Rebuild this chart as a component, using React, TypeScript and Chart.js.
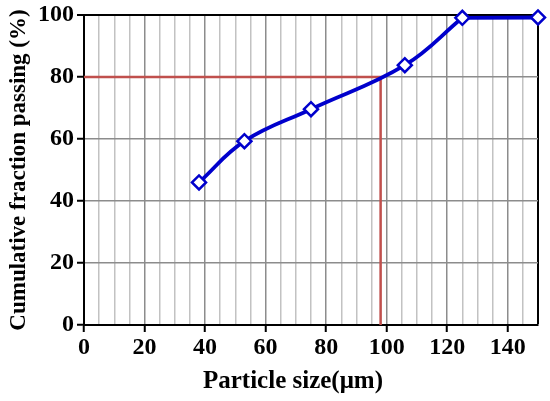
import React, { useEffect, useRef } from "react";
import { Chart, registerables } from "chart.js";

Chart.register(...registerables);

const sizes = [38, 53, 75, 106, 125, 150];
const passing = [46, 59.3, 69.6, 83.8, 99.1, 99.2];
const d80Size = 98;
const d80Value = 80;
const xMin = 0;
const xMax = 150;
const yMin = 0;
const yMax = 100;
const xTitle = "Particle size(μm)";
const yTitle = "Cumulative fraction passing (%)";

const BLUE = "#0000CC";
const RED = "#C0504D";
const FONT = "'Liberation Serif', 'Times New Roman', serif";

const xTitlePlugin = {
  id: "xTitlePlugin",
  afterDraw(chart: any) {
    const { ctx, chartArea } = chart;
    ctx.save();
    ctx.font = `bold 25px ${FONT}`;
    ctx.fillStyle = "#000";
    ctx.textAlign = "center";
    ctx.textBaseline = "alphabetic";
    const cx = (chartArea.left + chartArea.right) / 2 - 18;
    ctx.fillText(xTitle, cx, chartArea.bottom + 63);
    ctx.restore();
  },
};

export default function App() {
  const ref = useRef<HTMLCanvasElement | null>(null);

  useEffect(() => {
    if (!ref.current) return;
    const pts = sizes.map((x, i) => ({ x, y: passing[i] }));
    const plateauStart = sizes.length - 2;
    const redPts = [
      { x: xMin, y: d80Value },
      { x: d80Size, y: d80Value },
      { x: d80Size, y: yMin },
    ];
    const chart = new Chart(ref.current, {
      type: "scatter",
      plugins: [xTitlePlugin],
      data: {
        datasets: [
          {
            data: pts,
            showLine: false,
            pointStyle: "rectRot",
            pointRadius: 7,
            pointBorderWidth: 2.5,
            pointBackgroundColor: "#FFFFFF",
            pointBorderColor: BLUE,
            clip: false as any,
          },
          {
            data: pts.slice(0, plateauStart + 1),
            showLine: true,
            borderColor: BLUE,
            borderWidth: 3.8,
            tension: 0.4,
            pointRadius: 0,
            clip: 0 as any,
          },
          {
            data: pts.slice(plateauStart),
            showLine: true,
            borderColor: BLUE,
            borderWidth: 3.8,
            tension: 0,
            pointRadius: 0,
            clip: 0 as any,
          },
          {
            data: redPts,
            showLine: true,
            borderColor: RED,
            borderWidth: 2.5,
            tension: 0,
            pointRadius: 0,
            clip: false as any,
          },
        ],
      },
      options: {
        animation: false,
        responsive: true,
        maintainAspectRatio: false,
        layout: { padding: { top: 12, right: 12, left: 0, bottom: 0 } },
        plugins: { legend: { display: false }, tooltip: { enabled: false } },
        scales: {
          x: {
            type: "linear",
            min: xMin,
            max: xMax,
            afterFit: (s: any) => {
              s.height = 76;
            },
            ticks: {
              stepSize: 5,
              autoSkip: false,
              maxRotation: 0,
              padding: 4,
              color: "#000",
              font: { family: FONT, size: 24, weight: "bold", lineHeight: 1 },
              callback: (v: any) => (v % 20 === 0 && v !== xMax ? String(v) : ""),
            },
            grid: {
              color: (c: any) =>
                c.tick.value === xMax ? "#000" : c.tick.value % 20 === 0 ? "#8c8c8c" : "#c2c2c2",
              lineWidth: (c: any) => (c.tick.value === xMax ? 2 : 1.5),
              tickColor: (c: any) =>
                c.tick.value % 20 === 0 && c.tick.value !== xMax ? "#000" : "rgba(0,0,0,0)",
              tickLength: 7,
              tickWidth: 2,
            },
            border: { color: "#000", width: 2 },
            title: { display: false, text: xTitle },
          },
          y: {
            min: yMin,
            max: yMax,
            afterFit: (s: any) => {
              s.width = 84;
            },
            ticks: {
              stepSize: 20,
              padding: 3,
              color: "#000",
              font: { family: FONT, size: 24, weight: "bold", lineHeight: 1 },
            },
            grid: {
              color: (c: any) => (c.tick.value === yMax ? "#000" : "#8c8c8c"),
              lineWidth: (c: any) => (c.tick.value === yMax ? 2 : 1.5),
              tickColor: "#000",
              tickLength: 7,
              tickWidth: 2,
            },
            border: { color: "#000", width: 2 },
            title: {
              display: true,
              text: yTitle,
              color: "#000",
              font: { family: FONT, size: 23, weight: "bold" },
              padding: { top: 5, bottom: 0 },
            },
          },
        },
      },
    });
    return () => chart.destroy();
  }, []);

  return (
    <div style={{ position: "absolute", left: 0, top: 0, width: 550, height: 401, background: "#fff" }}>
      <canvas ref={ref} />
    </div>
  );
}
